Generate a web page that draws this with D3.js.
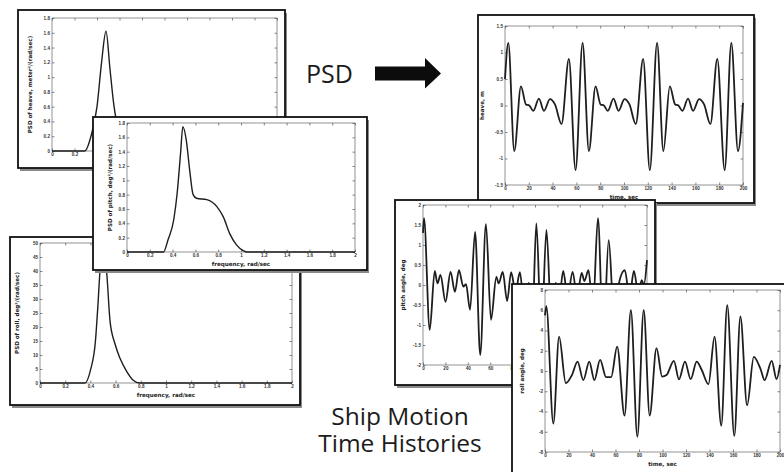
<!DOCTYPE html>
<html lang="en">
<head>
<meta charset="UTF-8" />
<title>Ship motion: PSD and time histories</title>
<script src="https://d3js.org/d3.v7.min.js"></script>
<style>
  html, body { margin: 0; padding: 0; background: #fff; }
  svg { display: block; font-family: "DejaVu Sans", sans-serif; }
  .tick text { font-size: 4.6px; font-weight: bold; fill: #333; }
  .tick line { stroke: #555; stroke-width: 0.7; }
  .lbl { font-size: 5.6px; font-weight: bold; fill: #222; }
  .big { font-family: "Open Sans", sans-serif; fill: #1c1c1c; }
</style>
</head>
<body>
<div id="chart"></div>
<script>
// ---- values ----
const freqTicks = [0, 0.2, 0.4, 0.6, 0.8, 1, 1.2, 1.4, 1.6, 1.8, 2];
const timeTicks = [0, 20, 40, 60, 80, 100, 120, 140, 160, 180, 200];
const smallPsdTicks = [0, 0.2, 0.4, 0.6, 0.8, 1, 1.2, 1.4, 1.6, 1.8];
const rollPsdTicks = [0, 5, 10, 15, 20, 25, 30, 35, 40, 45, 50];
const heaveTicks = [-1.5, -1, -0.5, 0, 0.5, 1, 1.5];
const pitchTicks = [-2, -1.5, -1, -0.5, 0, 0.5, 1, 1.5, 2];
const rollTicks = [-8, -6, -4, -2, 0, 2, 4, 6, 8];

// PSD curves (frequency rad/sec -> spectral density)
const heavePsdFreq = [0, 0.29, 0.35, 0.40, 0.44, 0.48, 0.516, 0.55, 0.6, 0.66, 0.72, 2];
const heavePsdVal  = [0, 0, 0.22, 0.6, 1.19, 1.62, 1.1, 0.62, 0.22, 0.05, 0, 0];

const pitchPsdFreq = [0, 0.32, 0.36, 0.41, 0.44, 0.47, 0.49, 0.52, 0.55, 0.58, 0.61, 0.7, 0.79, 0.845, 0.9, 0.96, 1.02, 1.05, 2];
const pitchPsdVal  = [0, 0, 0.17, 0.45, 0.82, 1.38, 1.75, 1.56, 1.14, 0.8, 0.75, 0.73, 0.63, 0.49, 0.26, 0.1, 0.02, 0, 0];

const rollPsdFreq = [0, 0.357, 0.4, 0.44, 0.46, 0.476, 0.5, 0.53, 0.556, 0.595, 0.635, 0.69, 0.74, 0.79, 2];
const rollPsdVal  = [0, 0, 4.5, 15, 28, 40, 48, 39, 22, 14, 8.8, 4, 1, 0, 0];

// time histories (sec -> motion), extrema
const heaveTime = [0, 2.8, 7.8, 13.4, 17.6, 20.4, 23.8, 28.5, 32.7, 37.8, 42.0, 47.5, 53.7, 59.3, 65.2, 70.5, 76.1, 80.3, 83.1, 86.4,
  91.2, 95.4, 100.4, 104.6, 109.9, 116.1, 121.7, 127.8, 133.1, 138.5, 143.0, 145.7, 149.1, 153.8, 158.0, 163.1, 167.3, 172.6, 178.4, 184.6,
  190.2, 195.8, 200];
const heaveVal = [0.5, 1.18, -0.86, 0.36, 0.02, 0.0, -0.1, 0.13, -0.1, 0.12, 0.02, -0.35, 0.88, -1.22, 1.18, -0.86, 0.36, 0.02, 0.0, -0.1,
  0.13, -0.1, 0.12, 0.02, -0.35, 0.88, -1.22, 1.18, -0.86, 0.36, 0.02, 0.0, -0.1, 0.13, -0.1, 0.12, 0.02, -0.35, 0.88, -1.22,
  1.18, -0.86, 0.05];

const pitchTime = [0, 0.9, 6.0, 10.5, 12.9, 15.6, 20.1, 24.6, 28.5, 32.1, 36.0, 38.4, 42.0, 46.5, 51.1, 56.2, 60.7, 65.5, 67.6, 71.2,
  75.1, 78.7, 82.6, 86.5, 90.5, 94.5, 97.5, 101.2, 105.7, 110.2, 114.7, 118.5, 121.5, 125.2, 129.1, 133.6, 137.5, 141.7, 144.1, 147.7,
  151.7, 156.2, 161.0, 165.8, 170.6, 175.4, 180.2, 184.4, 188.3, 192.2, 195.3, 197.2, 200];
const pitchVal = [1.3, 1.67, -1.12, 0.35, 0.04, 0.25, -0.42, 0.33, -0.17, 0.37, -0.04, 0.02, -0.62, 1.33, -1.75, 1.52, -0.87, 0.2, 0.04, 0.33,
  -0.4, 0.32, -0.17, 0.32, -0.6, 0.05, -1.0, 1.54, -1.3, 1.38, -0.9, 0.05, -0.35, 0.35, -0.3, 0.33, -0.3, 0.3, 0.1, 0.37,
  -0.6, 1.67, -1.4, 1.12, -0.8, 0.1, 0.37, -0.3, 0.35, -0.2, 0.12, 0.0, 0.62];

const rollTime = [0, 1.1, 7.1, 12.0, 17.7, 22.9, 27.7, 32.6, 37.7, 42.0, 46.9, 52.0, 56.3, 61.4, 67.7, 73.1, 78.6, 84.0, 89.1, 94.9,
  99.7, 103.4, 109.7, 114.0, 119.1, 124.0, 129.1, 133.4, 139.1, 144.3, 150.0, 155.1, 161.1, 166.3, 172.0, 177.7, 183.4, 186.9, 192.9, 197.1, 200];
const rollVal = [5.5, 6.4, -5.2, 3.4, -1.2, -0.4, 0.93, -0.9, 0.93, -0.9, 1.1, -0.6, -0.6, 2.4, -4.4, 6.0, -6.5, 6.0, -4.4, 2.25,
  -0.56, -0.4, 1.0, -0.83, 0.93, -0.8, 0.93, 0.1, -1.3, 3.4, -5.4, 6.5, -6.4, 5.4, -3.4, 1.4, 0.2, -0.9, 1.0, -0.8, 0.6];

// ---- drawing ----
const W = 784, H = 472;
const svg = d3.select("#chart").append("svg").attr("width", W).attr("height", H);

const fmt = d => String(d);

function drawPanel(p) {
  const g = svg.append("g");
  const [fx, fy, fw, fh] = p.frame;
  const [l, r, t, b] = p.plot;

  // frame with drop shadow
  g.append("rect").attr("x", fx + 2).attr("y", fy + 3).attr("width", fw).attr("height", fh)
    .attr("fill", "#8a8a8a");
  g.append("rect").attr("x", fx).attr("y", fy).attr("width", fw).attr("height", fh)
    .attr("fill", "#fff").attr("stroke", "#111").attr("stroke-width", 1.8);

  const x = d3.scaleLinear().domain(p.xDomain).range([l, r]);
  const y = d3.scaleLinear().domain(p.yDomain).range([b, t]);

  // plot box
  g.append("rect").attr("x", l).attr("y", t).attr("width", r - l).attr("height", b - t)
    .attr("fill", "none").attr("stroke", "#666").attr("stroke-width", 0.7);

  const tick = 2.5;
  const noDomain = sel => sel.select(".domain").remove();
  g.append("g").attr("transform", `translate(0,${b})`)
    .call(d3.axisBottom(x).tickValues(p.xTicks).tickFormat(fmt).tickSize(-tick).tickPadding(2))
    .call(noDomain);
  g.append("g").attr("transform", `translate(0,${t})`)
    .call(d3.axisTop(x).tickValues(p.xTicks).tickFormat("").tickSize(-tick))
    .call(noDomain);
  g.append("g").attr("transform", `translate(${l},0)`)
    .call(d3.axisLeft(y).tickValues(p.yTicks).tickFormat(fmt).tickSize(-tick).tickPadding(2))
    .call(noDomain);
  g.append("g").attr("transform", `translate(${r},0)`)
    .call(d3.axisRight(y).tickValues(p.yTicks).tickFormat("").tickSize(-tick))
    .call(noDomain);

  const pts = p.xs.map((d, i) => [d, p.ys[i]]);
  const line = d3.line().x(d => x(d[0])).y(d => y(d[1])).curve(d3.curveMonotoneX);
  g.append("path").datum(pts).attr("d", line)
    .attr("fill", "none").attr("stroke", "#1e1e1e").attr("stroke-width", p.lw)
    .attr("stroke-linejoin", "round");

  g.append("text").attr("class", "lbl").attr("text-anchor", "middle")
    .attr("x", (l + r) / 2).attr("y", b + 14).text(p.xLabel);
  g.append("text").attr("class", "lbl").attr("text-anchor", "middle")
    .attr("transform", `translate(${l - p.yOff},${(t + b) / 2}) rotate(-90)`).text(p.yLabel);
}

const panels = [
  { frame: [18, 10, 267, 158], plot: [52, 277, 18, 151], xDomain: [0, 2], yDomain: [0, 1.8],
    xTicks: freqTicks, yTicks: smallPsdTicks, xs: heavePsdFreq, ys: heavePsdVal, lw: 1.4, yOff: 20,
    xLabel: "frequency, rad/sec", yLabel: "PSD of heave, meter\u00b2/(rad/sec)" },
  { frame: [10, 237, 290, 168], plot: [40, 292, 243, 383], xDomain: [0, 2], yDomain: [0, 50],
    xTicks: freqTicks, yTicks: rollPsdTicks, xs: rollPsdFreq, ys: rollPsdVal, lw: 1.4, yOff: 21,
    xLabel: "frequency, rad/sec", yLabel: "PSD of roll, deg\u00b2/(rad/sec)" },
  { frame: [93, 117, 274, 153], plot: [127, 355, 123, 252], xDomain: [0, 2], yDomain: [0, 1.8],
    xTicks: freqTicks, yTicks: smallPsdTicks, xs: pitchPsdFreq, ys: pitchPsdVal, lw: 1.4, yOff: 15,
    xLabel: "frequency, rad/sec", yLabel: "PSD of pitch, deg\u00b2/(rad/sec)" },
  { frame: [478, 15, 276, 188], plot: [505, 743, 26, 185], xDomain: [0, 200], yDomain: [-1.5, 1.5],
    xTicks: timeTicks, yTicks: heaveTicks, xs: heaveTime, ys: heaveVal, lw: 1.8, yOff: 21,
    xLabel: "time, sec", yLabel: "heave, m" },
  { frame: [395, 200, 260, 185], plot: [423, 647, 205, 365], xDomain: [0, 200], yDomain: [-2, 2],
    xTicks: timeTicks, yTicks: pitchTicks, xs: pitchTime, ys: pitchVal, lw: 1.8, yOff: 18,
    xLabel: "time, sec", yLabel: "pitch angle, deg" },
  { frame: [512, 284, 275, 190], plot: [545, 780, 290, 452], xDomain: [0, 200], yDomain: [-8, 8],
    xTicks: timeTicks, yTicks: rollTicks, xs: rollTime, ys: rollVal, lw: 1.8, yOff: 21,
    xLabel: "time, sec", yLabel: "roll angle, deg" }
];

panels.forEach(drawPanel);

// captions and arrow
svg.append("text").attr("class", "big").attr("x", 306).attr("y", 83)
  .attr("font-size", 25).text("PSD");
svg.append("path")
  .attr("d", "M375,66.5 L425,66.5 L425,58 L441,73.5 L425,88.5 L425,80.5 L375,80.5 Z")
  .attr("fill", "#0c0c0c");

svg.append("text").attr("class", "big").attr("text-anchor", "middle")
  .attr("x", 400).attr("y", 425).attr("font-size", 24.5).text("Ship Motion");
svg.append("text").attr("class", "big").attr("text-anchor", "middle")
  .attr("x", 400).attr("y", 452).attr("font-size", 24.5).text("Time Histories");
</script>
</body>
</html>
